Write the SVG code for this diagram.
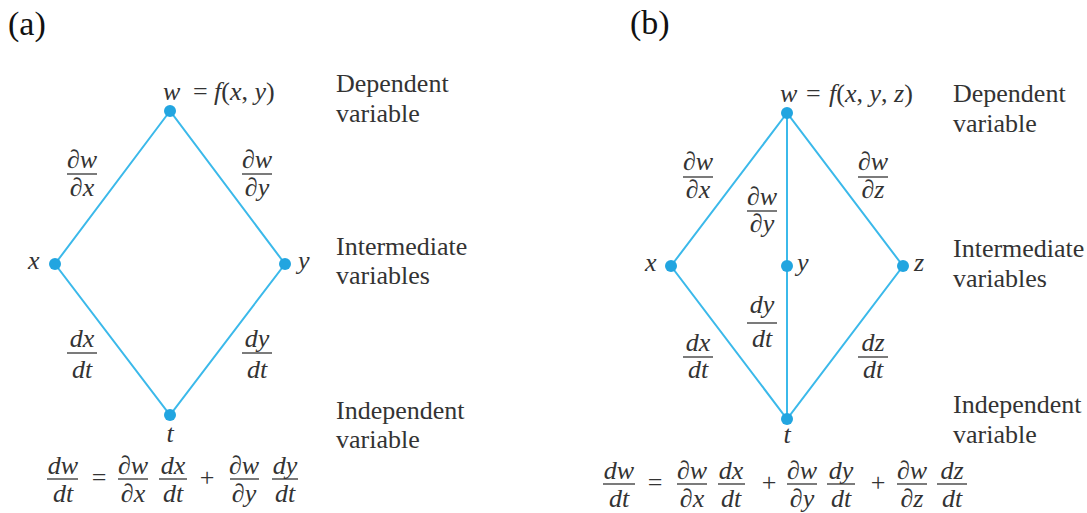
<svg xmlns="http://www.w3.org/2000/svg" width="1087" height="513" viewBox="0 0 1087 513">
<style>
.m{font-family:"Liberation Serif","Times New Roman",serif;font-style:italic;font-size:26px;fill:#333;text-anchor:middle}
.ml{font-family:"Liberation Serif","Times New Roman",serif;font-style:italic;font-size:26px;fill:#333}
.u{font-style:normal}
.o{font-family:"Liberation Serif","Times New Roman",serif;font-size:26px;fill:#333;text-anchor:middle}
.t{font-family:"Liberation Serif","Times New Roman",serif;font-size:26px;fill:#333}
.h{font-family:"Liberation Serif","Times New Roman",serif;font-size:34px;fill:#111}
.fl{stroke:#333;stroke-width:1.3}
.e{stroke:#3bb9ea;stroke-width:2;fill:none}
.d{fill:#22a5e0}
</style>
<rect width="1087" height="513" fill="#fff"/>
<text class="h" x="8" y="35">(a)</text>
<text class="h" x="630" y="34">(b)</text>

<g id="connectors">
<path class="e" d="M170 111 L55 264 L170 415 L285 264 Z"/>
<path class="e" d="M787 113 L671 266 L787 419 L903 266 Z M787 113 L787 419"/>
</g>

<g id="a-w"><circle class="d" cx="170" cy="111" r="6"/><text class="ml" y="100"><tspan x="163">w</tspan><tspan class="u" x="193">=</tspan><tspan x="214">f</tspan><tspan class="u">(</tspan>x<tspan class="u">, </tspan>y<tspan class="u">)</tspan></text></g>
<g id="a-x"><circle class="d" cx="55" cy="264" r="6"/><text class="ml" x="28" y="269">x</text></g>
<g id="a-y"><circle class="d" cx="285" cy="264" r="6"/><text class="ml" x="298" y="269">y</text></g>
<g id="a-t"><circle class="d" cx="170" cy="415" r="6"/><text class="m" x="170" y="442">t</text></g>
<g id="a-labels">
<text class="t" x="336" y="92">Dependent</text><text class="t" x="336" y="122">variable</text>
<text class="t" x="336" y="255">Intermediate</text><text class="t" x="336" y="284">variables</text>
<text class="t" x="336" y="419">Independent</text><text class="t" x="336" y="448">variable</text>
</g>
<g id="a-fracs">
<text class="m" x="82" y="168">∂w</text><line class="fl" x1="67" y1="174" x2="97" y2="174"/><text class="m" x="82" y="196">∂x</text>
<text class="m" x="257" y="168">∂w</text><line class="fl" x1="242" y1="174" x2="272" y2="174"/><text class="m" x="257" y="196">∂y</text>
<text class="m" x="82" y="347">dx</text><line class="fl" x1="67" y1="353" x2="97" y2="353"/><text class="m" x="82" y="378">dt</text>
<text class="m" x="257" y="347">dy</text><line class="fl" x1="242" y1="353" x2="272" y2="353"/><text class="m" x="257" y="378">dt</text>
</g>
<g id="a-formula">
<text class="m" x="63" y="474">dw</text><line class="fl" x1="47" y1="479" x2="78" y2="479"/><text class="m" x="63" y="502">dt</text>
<text class="o" x="99" y="486">=</text>
<text class="m" x="133" y="474">∂w</text><line class="fl" x1="118" y1="479" x2="148" y2="479"/><text class="m" x="133" y="502">∂x</text>
<text class="m" x="173" y="474">dx</text><line class="fl" x1="159" y1="479" x2="187" y2="479"/><text class="m" x="173" y="502">dt</text>
<text class="o" x="207" y="486">+</text>
<text class="m" x="244" y="474">∂w</text><line class="fl" x1="230" y1="479" x2="259" y2="479"/><text class="m" x="244" y="502">∂y</text>
<text class="m" x="285" y="474">dy</text><line class="fl" x1="272" y1="479" x2="298" y2="479"/><text class="m" x="285" y="502">dt</text>
</g>

<g id="b-w"><circle class="d" cx="787" cy="113" r="6"/><text class="ml" y="102"><tspan x="780">w</tspan><tspan class="u" x="806">=</tspan><tspan x="829">f</tspan><tspan class="u">(</tspan>x<tspan class="u">, </tspan>y<tspan class="u">, </tspan>z<tspan class="u">)</tspan></text></g>
<g id="b-x"><circle class="d" cx="671" cy="266" r="6"/><text class="ml" x="645" y="271">x</text></g>
<g id="b-y"><circle class="d" cx="787" cy="266" r="6"/><text class="ml" x="797" y="271">y</text></g>
<g id="b-z"><circle class="d" cx="903" cy="266" r="6"/><text class="ml" x="914" y="271">z</text></g>
<g id="b-t"><circle class="d" cx="787" cy="419" r="6"/><text class="m" x="787" y="443">t</text></g>
<g id="b-labels">
<text class="t" x="953" y="102">Dependent</text><text class="t" x="953" y="132">variable</text>
<text class="t" x="953" y="257">Intermediate</text><text class="t" x="953" y="287">variables</text>
<text class="t" x="953" y="413">Independent</text><text class="t" x="953" y="443">variable</text>
</g>
<g id="b-fracs">
<text class="m" x="698" y="170">∂w</text><line class="fl" x1="683" y1="177" x2="713" y2="177"/><text class="m" x="698" y="198">∂x</text>
<text class="m" x="873" y="170">∂w</text><line class="fl" x1="858" y1="177" x2="888" y2="177"/><text class="m" x="873" y="198">∂z</text>
<text class="m" x="762" y="205">∂w</text><line class="fl" x1="747" y1="211" x2="777" y2="211"/><text class="m" x="762" y="232">∂y</text>
<text class="m" x="762" y="313">dy</text><line class="fl" x1="747" y1="323" x2="777" y2="323"/><text class="m" x="762" y="347">dt</text>
<text class="m" x="698" y="351">dx</text><line class="fl" x1="683" y1="357" x2="713" y2="357"/><text class="m" x="698" y="378">dt</text>
<text class="m" x="873" y="351">dz</text><line class="fl" x1="858" y1="357" x2="888" y2="357"/><text class="m" x="873" y="378">dt</text>
</g>
<g id="b-formula">
<text class="m" x="619" y="479">dw</text><line class="fl" x1="603" y1="484" x2="635" y2="484"/><text class="m" x="619" y="507">dt</text>
<text class="o" x="655" y="491">=</text>
<text class="m" x="692" y="479">∂w</text><line class="fl" x1="677" y1="484" x2="707" y2="484"/><text class="m" x="692" y="507">∂x</text>
<text class="m" x="731" y="479">dx</text><line class="fl" x1="718" y1="484" x2="745" y2="484"/><text class="m" x="731" y="507">dt</text>
<text class="o" x="769" y="491">+</text>
<text class="m" x="802" y="479">∂w</text><line class="fl" x1="787" y1="484" x2="817" y2="484"/><text class="m" x="802" y="507">∂y</text>
<text class="m" x="841" y="479">dy</text><line class="fl" x1="827" y1="484" x2="855" y2="484"/><text class="m" x="841" y="507">dt</text>
<text class="o" x="878" y="491">+</text>
<text class="m" x="912" y="479">∂w</text><line class="fl" x1="897" y1="484" x2="927" y2="484"/><text class="m" x="912" y="507">∂z</text>
<text class="m" x="952" y="479">dz</text><line class="fl" x1="937" y1="484" x2="967" y2="484"/><text class="m" x="952" y="507">dt</text>
</g>
</svg>
